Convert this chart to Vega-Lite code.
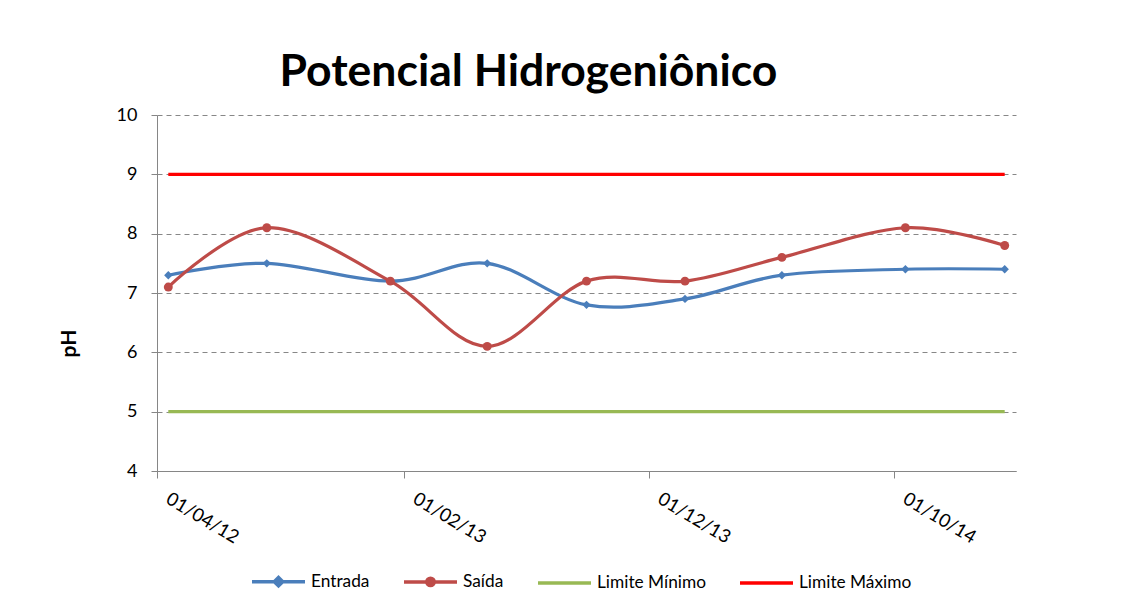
{
  "$schema": "https://vega.github.io/schema/vega-lite/v6.json",
  "autosize": {"type": "none"},
  "width": 859,
  "height": 356,
  "padding": {"left": 157, "top": 115, "right": 116, "bottom": 143},
  "background": "white",
  "config": {
    "font": "Lato",
    "view": {"stroke": null}
  },
  "title": {
    "text": "Potencial Hidrogeniônico",
    "font": "Lato",
    "fontSize": 44.5,
    "fontWeight": "bold",
    "color": "#000000",
    "anchor": "middle",
    "dx": -58,
    "baseline": "alphabetic",
    "offset": 28,
    "dy": 52
  },
  "data": {
    "values": [
      {"date": "2012-04-15", "serie": "Entrada", "ph": 7.3},
      {"date": "2012-08-15", "serie": "Entrada", "ph": 7.5},
      {"date": "2013-01-15", "serie": "Entrada", "ph": 7.2},
      {"date": "2013-05-15", "serie": "Entrada", "ph": 7.5},
      {"date": "2013-09-15", "serie": "Entrada", "ph": 6.8},
      {"date": "2014-01-15", "serie": "Entrada", "ph": 6.9},
      {"date": "2014-05-15", "serie": "Entrada", "ph": 7.3},
      {"date": "2014-10-15", "serie": "Entrada", "ph": 7.4},
      {"date": "2015-02-15", "serie": "Entrada", "ph": 7.4},
      {"date": "2012-04-15", "serie": "Saída", "ph": 7.1},
      {"date": "2012-08-15", "serie": "Saída", "ph": 8.1},
      {"date": "2013-01-15", "serie": "Saída", "ph": 7.2},
      {"date": "2013-05-15", "serie": "Saída", "ph": 6.1},
      {"date": "2013-09-15", "serie": "Saída", "ph": 7.2},
      {"date": "2014-01-15", "serie": "Saída", "ph": 7.2},
      {"date": "2014-05-15", "serie": "Saída", "ph": 7.6},
      {"date": "2014-10-15", "serie": "Saída", "ph": 8.1},
      {"date": "2015-02-15", "serie": "Saída", "ph": 7.8},
      {"date": "2012-04-15", "serie": "Limite Mínimo", "ph": 5},
      {"date": "2015-02-15", "serie": "Limite Mínimo", "ph": 5},
      {"date": "2012-04-15", "serie": "Limite Máximo", "ph": 9},
      {"date": "2015-02-15", "serie": "Limite Máximo", "ph": 9}
    ]
  },
  "encoding": {
    "x": {
      "field": "date",
      "type": "temporal",
      "scale": {
        "type": "utc",
        "domain": [
          {"year": 2012, "month": 4, "date": 1, "utc": true},
          {"year": 2015, "month": 3, "date": 1, "utc": true}
        ]
      },
      "axis": {
        "title": null,
        "values": [
          {"year": 2012, "month": 4, "date": 1, "utc": true},
          {"year": 2013, "month": 2, "date": 1, "utc": true},
          {"year": 2013, "month": 12, "date": 1, "utc": true},
          {"year": 2014, "month": 10, "date": 1, "utc": true}
        ],
        "labelExpr": "utcFormat(datum.value, '%d/%m/%y')",
        "grid": false,
        "domainColor": "#868686",
        "tickColor": "#868686",
        "tickSize": 7,
        "labelAngle": 31,
        "labelAlign": "left",
        "labelBaseline": "top",
        "labelPadding": 11,
        "labelOffset": 15,
        "labelFont": "Lato",
        "labelFontSize": 18.5,
        "labelColor": "#000000",
        "labelFlush": false,
        "labelOverlap": false
      }
    },
    "y": {
      "field": "ph",
      "type": "quantitative",
      "scale": {"domain": [4, 10], "nice": false, "zero": false},
      "axis": {
        "title": "pH",
        "values": [4, 5, 6, 7, 8, 9, 10],
        "grid": true,
        "gridColor": "#878787",
        "gridDash": [5, 4],
        "gridWidth": 1,
        "domainColor": "#868686",
        "tickColor": "#868686",
        "tickSize": 6,
        "labelPadding": 14,
        "labelFont": "Lato",
        "labelFontSize": 18,
        "labelColor": "#000000",
        "titleFont": "Lato",
        "titleFontSize": 21,
        "titleFontWeight": "bold",
        "titleColor": "#000000",
        "titleAngle": -90,
        "titleAlign": "center",
        "titleBaseline": "middle",
        "titleX": -88,
        "titleY": 228
      }
    },
    "color": {
      "field": "serie",
      "type": "nominal",
      "scale": {
        "domain": ["Entrada", "Saída", "Limite Mínimo", "Limite Máximo"],
        "range": ["#4A7EBB", "#BE4B48", "#98B954", "#FF0000"]
      },
      "legend": {
        "title": null,
        "orient": "none",
        "direction": "horizontal",
        "legendX": 93,
        "legendY": 438,
        "columns": 4,
        "padding": 0,
        "columnPadding": 27,
        "labelOffset": 4,
        "labelFont": "Lato",
        "labelFontSize": 17.3,
        "labelColor": "#000000",
        "symbolSize": 2809,
        "symbolStrokeWidth": 3.5,
        "encode": {
          "symbols": {
            "update": {
              "shape": {"signal": "datum.value === 'Entrada' ? 'M-1,0H1M0,-0.16L0.16,0L0,0.16L-0.16,0Z' : datum.value === 'Saída' ? 'M-1,0H1M0.14,0A0.14,0.14 0 1,1 -0.14,0A0.14,0.14 0 1,1 0.14,0Z' : 'M-1,0H1'"},
              "fill": {"scale": "color", "field": "value"},
              "stroke": {"scale": "color", "field": "value"},
              "fillOpacity": {"value": 1},
              "strokeWidth": {"value": 3.5}
            }
          }
        }
      }
    }
  },
  "layer": [
    {
      "mark": {"type": "line", "interpolate": "cardinal", "strokeWidth": 3.2}
    },
    {
      "transform": [{"filter": "datum.serie === 'Entrada'"}],
      "mark": {"type": "point", "shape": "diamond", "filled": true, "size": 70, "opacity": 1, "color": "#4A7EBB"},
      "encoding": {"color": {"value": "#4A7EBB"}}
    },
    {
      "transform": [{"filter": "datum.serie === 'Saída'"}],
      "mark": {"type": "point", "shape": "circle", "filled": true, "size": 80, "opacity": 1, "color": "#BE4B48"},
      "encoding": {"color": {"value": "#BE4B48"}}
    }
  ]
}
